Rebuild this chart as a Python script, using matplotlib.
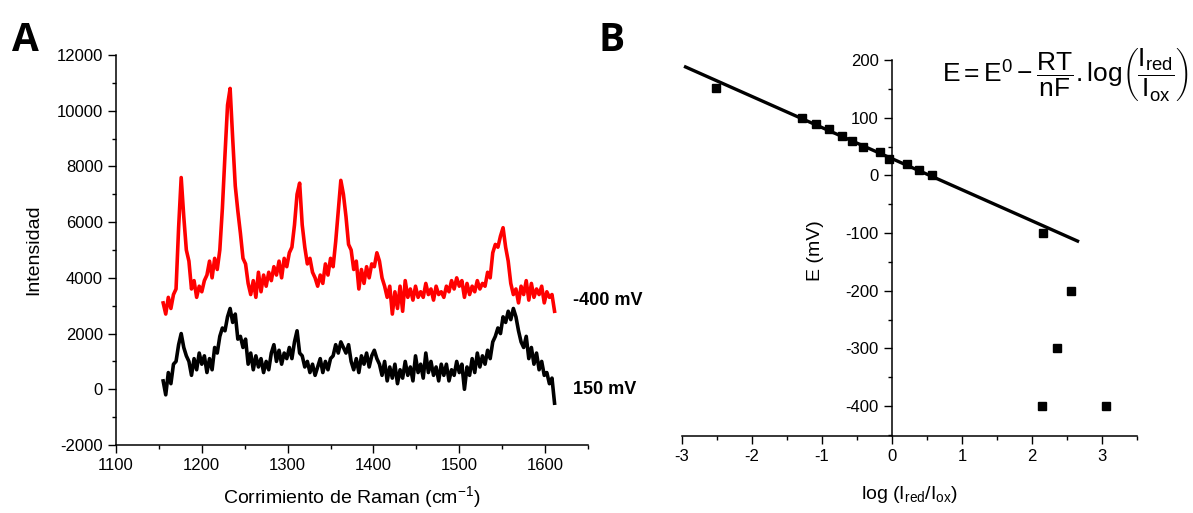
import numpy as np
import matplotlib
matplotlib.use("Agg")
import matplotlib.pyplot as plt
from matplotlib.ticker import MultipleLocator

plt.rcParams['font.family'] = ['Liberation Sans', 'DejaVu Sans']
plt.rcParams['axes.unicode_minus'] = False
plt.rcParams['mathtext.fontset'] = 'custom'
plt.rcParams['mathtext.rm'] = 'Liberation Sans'
plt.rcParams['mathtext.it'] = 'Liberation Sans'

# panel A: Raman spectra (sampled every 3 cm-1, 1155-1611)
shift = np.arange(1155, 1612, 3)
spec_m400 = [3100, 2700, 3300, 2900, 3400, 3600, 5800, 7600, 6200, 5000,
             4600, 3600, 3900, 3300, 3700, 3500, 3900, 4100, 4600, 4000,
             4700, 4300, 5000, 6500, 8400, 10200, 10800, 9000, 7300, 6400,
             5600, 4700, 4500, 3800, 3400, 3900, 3300, 4200, 3500, 4100,
             3700, 4200, 3900, 4400, 4100, 4600, 4000, 4700, 4400, 4900,
             5100, 5900, 7000, 7400, 5900, 5100, 4500, 4700, 4200, 4000,
             3700, 4100, 3800, 4500, 4100, 4700, 4400, 5300, 6400, 7500,
             7000, 6200, 5200, 5000, 4300, 4600, 3600, 4300, 3800, 4400,
             4000, 4500, 4400, 4900, 4600, 4000, 3700, 3300, 3700, 2700,
             3500, 2900, 3700, 2800, 3900, 3300, 3600, 3200, 3700, 3300,
             3500, 3300, 3800, 3400, 3600, 3200, 3700, 3400, 3500, 3300,
             3700, 3500, 3900, 3600, 4000, 3700, 3900, 3300, 3800, 3400,
             3700, 3500, 3900, 3600, 3800, 3700, 4200, 4000, 4900, 5200,
             5100, 5500, 5800, 5100, 4600, 3800, 3400, 3600, 3100, 3700,
             3400, 3900, 3200, 3800, 3300, 3600, 3400, 3700, 3100, 3500,
             3300, 3400, 2800]
spec_150 = [300, -200, 600, 200, 900, 1000, 1600, 2000, 1500, 1200,
            1000, 500, 1100, 700, 1300, 900, 1200, 600, 1100, 700,
            1500, 1300, 1900, 2200, 2100, 2600, 2900, 2400, 2700, 1800,
            1900, 1500, 1800, 900, 1300, 700, 1200, 800, 1100, 600,
            1000, 700, 1300, 1600, 1000, 1400, 900, 1300, 1100, 1500,
            1100, 1700, 2100, 1300, 1200, 800, 1000, 600, 900, 500,
            800, 1100, 600, 1000, 700, 1100, 1200, 1600, 1300, 1700,
            1500, 1300, 1600, 1000, 700, 1100, 600, 1200, 900, 1300,
            800, 1200, 1400, 1100, 900, 500, 1000, 300, 800, 400,
            900, 200, 700, 400, 1000, 500, 800, 300, 1200, 600,
            900, 400, 1300, 600, 1000, 500, 800, 300, 900, 500,
            900, 300, 700, 500, 1000, 600, 900, 0, 800, 500,
            1100, 600, 1300, 800, 1200, 900, 1400, 1100, 1700, 1900,
            2200, 2000, 2600, 2400, 2800, 2500, 2900, 2600, 2100, 1700,
            1500, 1900, 1100, 1500, 900, 1300, 700, 1000, 500, 600,
            200, 400, -500]

# panel B: Nernst plot
log_ratio = [-2.52, -1.28, -1.09, -0.90, -0.72, -0.57, -0.41, -0.17, -0.04,
             0.21, 0.39, 0.57, 2.16, 2.56, 2.36, 2.14, 3.05]
potential = [151, 99, 89, 80, 69, 59, 49, 41, 28, 20, 10, 0,
             -100, -200, -300, -400, -400]
fit_x = [-2.95, 2.65]
fit_E = [188, -114]

fig = plt.figure(figsize=(11.93, 5.13), dpi=100)

axA = fig.add_axes([0.0972, 0.1326, 0.3957, 0.7602])
axA.plot(shift, spec_m400, color='red', lw=2.6)
axA.plot(shift, spec_150, color='black', lw=2.6)
axA.set_xlim(1100, 1650)
axA.set_ylim(-2000, 12000)
axA.xaxis.set_major_locator(MultipleLocator(100))
axA.xaxis.set_minor_locator(MultipleLocator(50))
axA.yaxis.set_major_locator(MultipleLocator(2000))
axA.yaxis.set_minor_locator(MultipleLocator(1000))
for s in ['top', 'right']:
    axA.spines[s].set_visible(False)
axA.set_xlabel('Corrimiento de Raman (cm$^{-1}$)', fontsize=14, labelpad=8)
axA.set_ylabel('Intensidad', fontsize=14, labelpad=10)
axA.text(1632, 3200, '-400 mV', fontsize=13, fontweight='bold',
         va='center', ha='left', clip_on=False)
axA.text(1632, 0, '150 mV', fontsize=13, fontweight='bold',
         va='center', ha='left', clip_on=False)

axB = fig.add_axes([0.5717, 0.1501, 0.3814, 0.7329])
axB.plot(fit_x, fit_E, color='black', lw=2.4)
axB.plot(log_ratio, potential, 's', color='black', ms=5.5, ls='none')
axB.set_xlim(-3, 3.5)
axB.set_ylim(-452, 200)
axB.spines['left'].set_position(('data', 0))
for s in ['top', 'right']:
    axB.spines[s].set_visible(False)
axB.xaxis.set_major_locator(MultipleLocator(1))
axB.xaxis.set_minor_locator(MultipleLocator(0.5))
axB.yaxis.set_major_locator(MultipleLocator(100))
axB.yaxis.set_minor_locator(MultipleLocator(50))
axB.set_xlabel('log (I$_{red}$/I$_{ox}$)', fontsize=14, labelpad=14)
axB.text(-1.1, -130, 'E (mV)', rotation=90, fontsize=14,
         va='center', ha='center')

for ax in (axA, axB):
    ax.tick_params(which='major', direction='out', length=6, width=1,
                   labelsize=12)
    ax.tick_params(which='minor', direction='out', length=3, width=1)
    for s in ax.spines.values():
        s.set_linewidth(1.1)

fig.text(0.893, 0.852,
         r'$\mathrm{E = E^0 - \dfrac{RT}{nF}.log}\left(\dfrac{I_{red}}{I_{ox}}\right)$',
         fontsize=19, ha='center', va='center')

fig.text(0.010, 0.90, 'A', fontsize=28, fontweight='bold',
         family=['Open Sans', 'DejaVu Sans'])
fig.text(0.502, 0.90, 'B', fontsize=28, fontweight='bold',
         family=['Open Sans', 'DejaVu Sans'])

fig.savefig('out.png', dpi=100)
